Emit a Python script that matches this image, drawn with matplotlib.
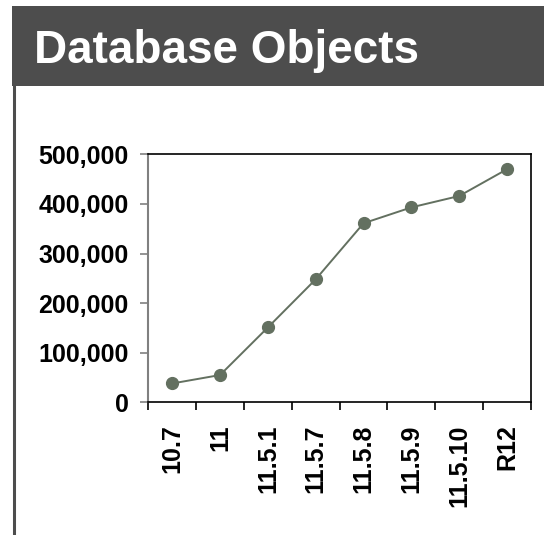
import matplotlib
matplotlib.use("Agg")
import matplotlib.pyplot as plt
from matplotlib.patches import Rectangle
from matplotlib.lines import Line2D
from matplotlib.ticker import FuncFormatter, FixedLocator
import numpy as np

releases = ["10.7", "11", "11.5.1", "11.5.7", "11.5.8", "11.5.9", "11.5.10", "R12"]
objects = [38000, 55000, 151000, 248000, 361000, 393000, 416000, 470000]
title = "Database Objects"

plt.rcParams['font.family'] = ['Liberation Sans', 'DejaVu Sans']

W, H = 544, 535
fig = plt.figure(figsize=(W / 100, H / 100), dpi=100)
fig.patch.set_facecolor("white")

# header band
fig.add_artist(Rectangle((12 / W, 1 - 86 / H), 1 - 12 / W, 80 / H,
                         transform=fig.transFigure, facecolor="#4d4d4d",
                         edgecolor="none"))
fig.text(34 / W, 1 - 63 / H, title, color="white", fontsize=33,
         fontweight="bold", va="baseline", ha="left")
# left vertical rule
fig.add_artist(Line2D([13.5 / W, 13.5 / W], [0, 1 - 86 / H],
                      transform=fig.transFigure, color="#4d4d4d", lw=2.2))

ax = fig.add_axes([148.3 / W, 1 - 402.3 / H, (531 - 148.3) / W, (402.3 - 154.3) / H])
x = np.arange(len(releases))
ax.plot(x, objects, color="#637060", lw=1.4, marker="o", markersize=8.5,
        markerfacecolor="#637060", markeredgecolor="#637060")

ax.set_xlim(-0.5, len(releases) - 0.5)
ax.set_ylim(0, 500000)
ax.set_yticks(np.arange(0, 500001, 100000))
ax.yaxis.set_major_formatter(FuncFormatter(lambda v, p: f"{int(v):,}"))
ax.set_xticks(x)
ax.set_xticklabels(releases, rotation=90, fontweight="bold", fontsize=18)
ax.xaxis.set_minor_locator(FixedLocator(np.arange(-0.5, len(releases), 1.0)))
ax.tick_params(axis="x", which="major", length=0, pad=16)
ax.tick_params(axis="x", which="minor", length=6, width=1.2, color="black", direction="out")
ax.tick_params(axis="y", length=6, width=1.2, color="#808080", pad=8, labelsize=18)
for lab in ax.get_yticklabels():
    lab.set_fontweight("bold")

ax.spines["left"].set_color("#808080")
ax.spines["left"].set_linewidth(1.5)
for s in ["top", "right", "bottom"]:
    ax.spines[s].set_color("black")
    ax.spines[s].set_linewidth(1.2)

fig.savefig("out.png", dpi=100)
